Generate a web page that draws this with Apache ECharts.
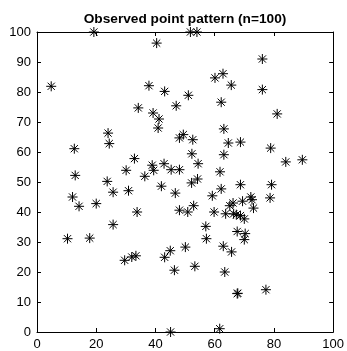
<!DOCTYPE html>
<html><head><meta charset="utf-8">
<script src="https://cdn.jsdelivr.net/npm/echarts@6/dist/echarts.min.js"></script>
<style>html,body{margin:0;padding:0;background:#fff}#c{width:347px;height:351px}</style>
</head><body><div id="c"></div>
<script>
var xs = [19.2,51.8,54,40.4,4.8,37.8,43.1,51.1,47,34.2,39.2,41.2,60.1,62.8,65.6,62.2,76.1,76.1,81.1,
40.9,12.6,24,24.4,48.1,49.4,52.6,63.1,64.6,68.7,52.3,63.1,78.9,32.9,54.4,42.9,38.9,39.4,84,89.6,
12.9,30.1,36.4,45.3,48.1,61.8,23.7,52.2,54.2,68.7,79.2,12,14.2,20,25.7,30.9,42,46.7,59.2,62.2,
52.9,48.1,50.9,59.8,33.8,65.1,66.2,69.4,72.2,72.6,73.1,78.7,63.7,66.4,67.3,68.7,70,25.7,67.6,57,
10.3,17.8,29.6,32,33.4,43.1,45,46.4,50.1,53.3,57.2,62.9,65.7,63.4,70.3,70,67.6,67.8,77.3,45.1,61.7];
var ys = [100,100,100,96.3,81.9,82.1,80.2,78.9,75.4,74.7,73,71,84.7,86.1,82.3,76.6,91,80.8,72.7,
68,61.1,66.3,62.8,64.7,65.8,64.1,67.7,63,63.3,59.4,59.1,61.3,57.8,56.1,56.1,55.6,53.9,56.7,57.4,
52.2,53.9,51.9,54.1,54.1,53.4,50.2,49.7,51,49.1,49.1,45,41.9,42.8,46.6,47.1,48.6,46.3,45.4,47.7,
42.1,40.6,40,40,40,42.1,43,43.6,45,44.1,41.3,44.7,39.4,39.4,39.1,38.8,37.7,35.8,33.5,35.2,
31.1,31.3,23.9,25,25.4,24.9,27.1,20.6,28.3,21.9,31.1,28.6,26.7,20,32.8,30.8,12.8,12.9,14.1,0,1.1];
var titleText = 'Observed point pattern (n=100)';
var pts = xs.map(function(x,i){return [x, ys[i]];});
var chart = echarts.init(document.getElementById('c'), null, {renderer:'canvas'});
var font = 'Liberation Sans, Arial, Helvetica, sans-serif';
function ax(pos, show, interval){
  return {type:'value', position:pos, min:0, max:100, interval:interval,
    axisLine:{show:true, onZero:false, lineStyle:{color:'#000', width:1}},
    axisTick:{show:true, inside:true, length:4, lineStyle:{color:'#000'}},
    splitLine:{show:false},
    axisLabel:{show:show, color:'#000', fontSize:13, fontFamily:font, margin:6}};
}
chart.setOption({
  animation:false,
  backgroundColor:'#fff',
  title:{text:titleText, left:180, textAlign:'center', top:7,
    textStyle:{fontSize:13.7, fontWeight:'bold', color:'#000', fontFamily:font}},
  grid:{left:37, top:32, width:300, height:300, containLabel:false},
  xAxis:[ax('bottom', true, 20), ax('top', false, 20)],
  yAxis:[ax('left', true, 10), ax('right', false, 10)],
  series:[{type:'scatter', data:pts, xAxisIndex:0, yAxisIndex:0,
    symbol:'path://M0,-5L0,5M-5,0L5,0M-3.6,-3.6L3.6,3.6M-3.6,3.6L3.6,-3.6',
    symbolSize:10,
    itemStyle:{color:'none', borderColor:'#000', borderWidth:1, opacity:1},
    clip:false}]
});
</script></body></html>
